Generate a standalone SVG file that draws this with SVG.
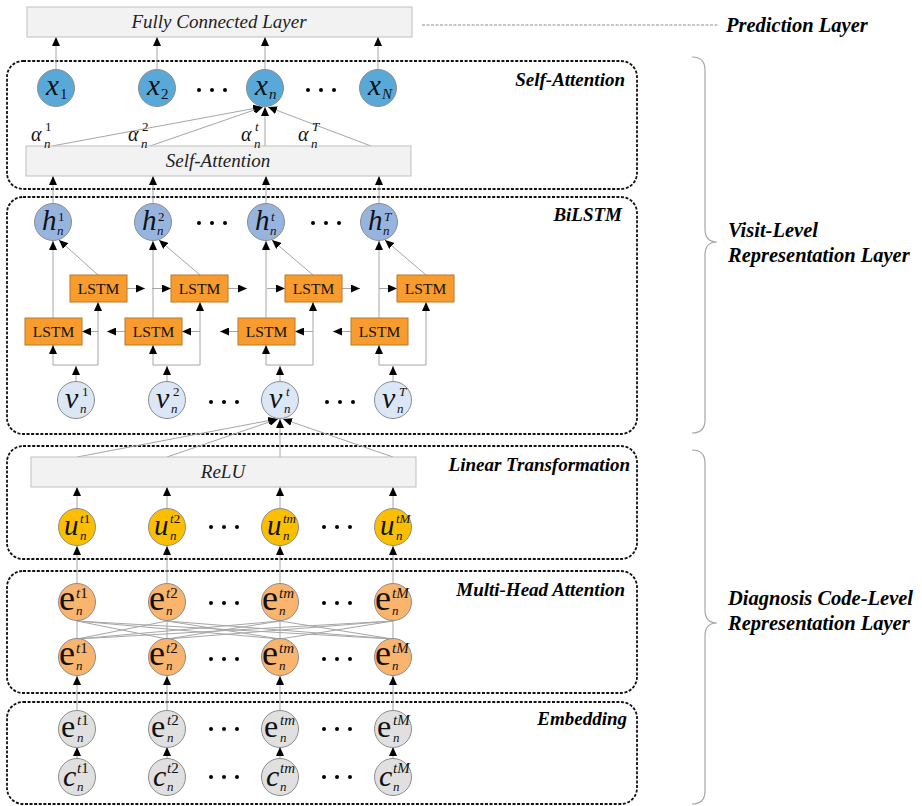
<svg xmlns="http://www.w3.org/2000/svg" width="922" height="806" viewBox="0 0 922 806">
<defs>
<marker id="ah" viewBox="0 0 9 8" refX="9" refY="4" markerWidth="9" markerHeight="8" markerUnits="userSpaceOnUse" orient="auto">
<path d="M0,0 L9,4 L0,8 z" fill="#000"/>
</marker>
<style>
text{font-family:'Liberation Serif','Times New Roman',Tinos,'DejaVu Serif',serif}
.box{fill:none;stroke:#111;stroke-width:1.8;stroke-dasharray:3 1.6}
.bar{fill:#f2f2f2;stroke:#bfbfbf;stroke-width:1}
.c{stroke:#a6a6a6;stroke-width:1;fill:none}
.a{stroke:#a6a6a6;stroke-width:1;fill:none;marker-end:url(#ah)}
.nd{stroke:#8c8c8c;stroke-width:1}
.xb{fill:#58a9d8}.hb{fill:#97b4df}.vb{fill:#dbe6f6}.ub{fill:#fcbf00}.eo{fill:#f9b46e}.gr{fill:#e0e0e0}
.lstm{fill:#f89c2e;stroke:#b9782a;stroke-width:1}
.lt{font-size:15.5px;text-anchor:middle;fill:#111}
.bt{font-size:19px;font-style:italic;text-anchor:middle;fill:#222}
.sec{font-size:19px;font-style:italic;font-weight:bold;text-anchor:end;fill:#000}
.side{font-size:20.5px;font-style:italic;font-weight:bold;fill:#000}
.m{font-size:29px;font-style:italic;fill:#111}
.mv{font-size:30px;font-style:italic;fill:#111}
.me{font-size:36px;fill:#111}
.me2{font-size:32px;fill:#111}
.s{font-size:13px;font-style:italic;fill:#111}
.s2{font-size:15px;font-style:italic;fill:#111}
.sr{font-style:normal}
.al{font-size:20px;font-style:italic;fill:#111}
.dot{fill:#000}
.br{stroke:#a6a6a6;stroke-width:1.2;fill:none}
</style>
</defs>

<g id="sections">
<rect class="box" x="7" y="61" width="630" height="128" rx="16"/>
<rect class="box" x="7" y="197" width="630" height="237" rx="16"/>
<rect class="box" x="7" y="446" width="630" height="113" rx="16"/>
<rect class="box" x="7" y="571" width="630" height="122" rx="16"/>
<rect class="box" x="7" y="702" width="630" height="102" rx="16"/>
<text class="sec" x="625" y="86">Self-Attention</text>
<text class="sec" x="622" y="221">BiLSTM</text>
<text class="sec" x="630" y="471">Linear Transformation</text>
<text class="sec" x="625" y="596">Multi-Head Attention</text>
<text class="sec" x="627" y="725">Embedding</text>
</g>

<g id="side-labels">
<line x1="422" y1="25" x2="718" y2="25" stroke="#8c8c8c" stroke-width="1" stroke-dasharray="3 1.5"/>
<text class="side" x="726" y="32">Prediction Layer</text>
<path class="br" d="M692,57 Q705,57 705,70 L705,229 Q705,242 717,242 Q705,242 705,255 L705,420 Q705,433 692,433"/>
<text class="side" x="728" y="237">Visit-Level</text>
<text class="side" x="728" y="262">Representation Layer</text>
<path class="br" d="M692,450 Q705,450 705,463 L705,610 Q705,623 717,623 Q705,623 705,636 L705,791 Q705,804 692,804"/>
<text class="side" x="728" y="605">Diagnosis Code-Level</text>
<text class="side" x="728" y="630">Representation Layer</text>
</g>

<g id="connectors">
<line class="a" x1="56" y1="69" x2="56" y2="37"/>
<line class="a" x1="157" y1="69" x2="157" y2="37"/>
<line class="a" x1="265" y1="69" x2="265" y2="37"/>
<line class="a" x1="378" y1="69" x2="378" y2="37"/>
<line class="a" x1="52" y1="146" x2="262" y2="107"/>
<line class="a" x1="150" y1="146" x2="263" y2="107"/>
<line class="a" x1="265" y1="146" x2="265" y2="107"/>
<line class="a" x1="371" y1="146" x2="268" y2="107"/>
<line class="a" x1="53" y1="204" x2="53" y2="176"/>
<line class="a" x1="153" y1="204" x2="153" y2="176"/>
<line class="a" x1="266" y1="204" x2="266" y2="176"/>
<line class="a" x1="379" y1="204" x2="379" y2="176"/>
<line class="a" x1="76" y1="382" x2="76" y2="366"/>
<line class="c" x1="53" y1="365" x2="98" y2="365"/>
<line class="a" x1="53" y1="365" x2="53" y2="345"/>
<line class="a" x1="98" y1="365" x2="98" y2="302"/>
<line class="a" x1="53" y1="318" x2="53" y2="241"/>
<line class="a" x1="98" y1="275" x2="59" y2="240"/>
<line class="a" x1="167" y1="382" x2="167" y2="366"/>
<line class="c" x1="153" y1="365" x2="200" y2="365"/>
<line class="a" x1="153" y1="365" x2="153" y2="345"/>
<line class="a" x1="200" y1="365" x2="200" y2="302"/>
<line class="a" x1="153" y1="318" x2="153" y2="241"/>
<line class="a" x1="200" y1="275" x2="159" y2="240"/>
<line class="a" x1="280" y1="382" x2="280" y2="366"/>
<line class="c" x1="266" y1="365" x2="313" y2="365"/>
<line class="a" x1="266" y1="365" x2="266" y2="345"/>
<line class="a" x1="313" y1="365" x2="313" y2="302"/>
<line class="a" x1="266" y1="318" x2="266" y2="241"/>
<line class="a" x1="313" y1="275" x2="272" y2="240"/>
<line class="a" x1="393" y1="382" x2="393" y2="366"/>
<line class="c" x1="379" y1="365" x2="426" y2="365"/>
<line class="a" x1="379" y1="365" x2="379" y2="345"/>
<line class="a" x1="426" y1="365" x2="426" y2="302"/>
<line class="a" x1="379" y1="318" x2="379" y2="241"/>
<line class="a" x1="426" y1="275" x2="385" y2="240"/>
<line class="a" x1="127" y1="288.5" x2="145" y2="288.5"/>
<line class="a" x1="152" y1="288.5" x2="171" y2="288.5"/>
<line class="a" x1="228" y1="288.5" x2="247" y2="288.5"/>
<line class="a" x1="267" y1="288.5" x2="285" y2="288.5"/>
<line class="a" x1="342" y1="288.5" x2="360" y2="288.5"/>
<line class="a" x1="379" y1="288.5" x2="397" y2="288.5"/>
<line class="a" x1="98" y1="331.5" x2="82" y2="331.5"/>
<line class="a" x1="125" y1="331.5" x2="107" y2="331.5"/>
<line class="a" x1="200" y1="331.5" x2="182" y2="331.5"/>
<line class="a" x1="238" y1="331.5" x2="220" y2="331.5"/>
<line class="a" x1="313" y1="331.5" x2="295" y2="331.5"/>
<line class="a" x1="351" y1="331.5" x2="333" y2="331.5"/>
<line class="a" x1="77" y1="457" x2="277" y2="419"/>
<line class="a" x1="167" y1="457" x2="278" y2="419"/>
<line class="a" x1="280" y1="457" x2="280" y2="419"/>
<line class="a" x1="393" y1="457" x2="283" y2="419"/>
<line class="a" x1="77" y1="508" x2="77" y2="487"/>
<line class="a" x1="167" y1="508" x2="167" y2="487"/>
<line class="a" x1="280" y1="508" x2="280" y2="487"/>
<line class="a" x1="393" y1="508" x2="393" y2="487"/>
<line class="a" x1="77" y1="583" x2="77" y2="546"/>
<line class="a" x1="167" y1="583" x2="167" y2="546"/>
<line class="a" x1="280" y1="583" x2="280" y2="546"/>
<line class="a" x1="393" y1="583" x2="393" y2="546"/>
<g class="c">
<line x1="77" y1="621" x2="77" y2="639"/><line x1="77" y1="621" x2="167" y2="639"/><line x1="77" y1="621" x2="280" y2="639"/><line x1="77" y1="621" x2="393" y2="639"/>
<line x1="167" y1="621" x2="77" y2="639"/><line x1="167" y1="621" x2="167" y2="639"/><line x1="167" y1="621" x2="280" y2="639"/><line x1="167" y1="621" x2="393" y2="639"/>
<line x1="280" y1="621" x2="77" y2="639"/><line x1="280" y1="621" x2="167" y2="639"/><line x1="280" y1="621" x2="280" y2="639"/><line x1="280" y1="621" x2="393" y2="639"/>
<line x1="393" y1="621" x2="77" y2="639"/><line x1="393" y1="621" x2="167" y2="639"/><line x1="393" y1="621" x2="280" y2="639"/><line x1="393" y1="621" x2="393" y2="639"/>
</g>
<line class="a" x1="77" y1="711" x2="77" y2="676"/>
<line class="a" x1="167" y1="711" x2="167" y2="676"/>
<line class="a" x1="280" y1="711" x2="280" y2="676"/>
<line class="a" x1="393" y1="711" x2="393" y2="676"/>
<line class="a" x1="77" y1="759" x2="77" y2="747"/>
<line class="a" x1="167" y1="759" x2="167" y2="747"/>
<line class="a" x1="280" y1="759" x2="280" y2="747"/>
<line class="a" x1="393" y1="759" x2="393" y2="747"/>
</g>

<g id="fc-layer">
<rect class="bar" x="27" y="7" width="385" height="30"/>
<text class="bt" x="219" y="28">Fully Connected Layer</text>
</g>
<g id="self-attention-bar">
<rect class="bar" x="26" y="146" width="385" height="30"/>
<text class="bt" x="218" y="167">Self-Attention</text>
</g>
<g id="relu-bar">
<rect class="bar" x="31" y="457" width="385" height="30"/>
<text class="bt" x="223" y="478">ReLU</text>
</g>

<g id="alpha-labels">
<text class="al" x="31" y="141">α</text><text class="s sr" x="45" y="131">1</text><text class="s" x="44" y="148">n</text>
<text class="al" x="128" y="141">α</text><text class="s sr" x="142" y="131">2</text><text class="s" x="141" y="148">n</text>
<text class="al" x="241" y="141">α</text><text class="s" x="255" y="131">t</text><text class="s" x="254" y="148">n</text>
<text class="al" x="298" y="141">α</text><text class="s" x="312" y="131">T</text><text class="s" x="311" y="148">n</text>
</g>

<g id="x1"><circle class="nd xb" cx="56" cy="88" r="18.5"/><text class="m" x="46" y="95">x</text><text class="s2 sr" x="60" y="99">1</text></g>
<g id="x2"><circle class="nd xb" cx="157" cy="88" r="18.5"/><text class="m" x="147" y="95">x</text><text class="s2 sr" x="161" y="99">2</text></g>
<g id="xn"><circle class="nd xb" cx="265" cy="88" r="18.5"/><text class="m" x="255" y="95">x</text><text class="s2" x="269" y="99">n</text></g>
<g id="xN"><circle class="nd xb" cx="378" cy="88" r="18.5"/><text class="m" x="368" y="95">x</text><text class="s2" x="382" y="99">N</text></g>
<g id="dots-x"><circle class="dot" cx="199" cy="90" r="2"/><circle class="dot" cx="212" cy="90" r="2"/><circle class="dot" cx="225" cy="90" r="2"/><circle class="dot" cx="308" cy="90" r="2"/><circle class="dot" cx="321" cy="90" r="2"/><circle class="dot" cx="334" cy="90" r="2"/></g>

<g id="h1"><circle class="nd hb" cx="53" cy="222" r="18.5"/><text class="m" x="42" y="230">h</text><text class="s sr" x="58" y="221">1</text><text class="s" x="57" y="235">n</text></g>
<g id="h2"><circle class="nd hb" cx="153" cy="222" r="18.5"/><text class="m" x="142" y="230">h</text><text class="s sr" x="158" y="221">2</text><text class="s" x="157" y="235">n</text></g>
<g id="ht"><circle class="nd hb" cx="266" cy="222" r="18.5"/><text class="m" x="255" y="230">h</text><text class="s" x="271" y="221">t</text><text class="s" x="270" y="235">n</text></g>
<g id="hT"><circle class="nd hb" cx="379" cy="222" r="18.5"/><text class="m" x="368" y="230">h</text><text class="s" x="384" y="221">T</text><text class="s" x="383" y="235">n</text></g>
<g id="dots-h"><circle class="dot" cx="199" cy="223" r="2"/><circle class="dot" cx="212" cy="223" r="2"/><circle class="dot" cx="225" cy="223" r="2"/><circle class="dot" cx="313" cy="223" r="2"/><circle class="dot" cx="326" cy="223" r="2"/><circle class="dot" cx="339" cy="223" r="2"/></g>

<g id="lstm-f1"><rect class="lstm" x="70" y="275" width="57" height="27"/><text class="lt" x="98.5" y="294">LSTM</text></g>
<g id="lstm-f2"><rect class="lstm" x="171" y="275" width="57" height="27"/><text class="lt" x="199.5" y="294">LSTM</text></g>
<g id="lstm-f3"><rect class="lstm" x="285" y="275" width="57" height="27"/><text class="lt" x="313.5" y="294">LSTM</text></g>
<g id="lstm-f4"><rect class="lstm" x="397" y="275" width="57" height="27"/><text class="lt" x="425.5" y="294">LSTM</text></g>
<g id="lstm-b1"><rect class="lstm" x="25" y="318" width="57" height="27"/><text class="lt" x="53.5" y="337">LSTM</text></g>
<g id="lstm-b2"><rect class="lstm" x="125" y="318" width="57" height="27"/><text class="lt" x="153.5" y="337">LSTM</text></g>
<g id="lstm-b3"><rect class="lstm" x="238" y="318" width="57" height="27"/><text class="lt" x="266.5" y="337">LSTM</text></g>
<g id="lstm-b4"><rect class="lstm" x="351" y="318" width="57" height="27"/><text class="lt" x="379.5" y="337">LSTM</text></g>

<g id="v1"><circle class="nd vb" cx="76" cy="400" r="18.5"/><text class="mv" x="65" y="408">v</text><text class="s sr" x="82" y="396">1</text><text class="s" x="80" y="413">n</text></g>
<g id="v2"><circle class="nd vb" cx="167" cy="400" r="18.5"/><text class="mv" x="156" y="408">v</text><text class="s sr" x="173" y="396">2</text><text class="s" x="171" y="413">n</text></g>
<g id="vt"><circle class="nd vb" cx="280" cy="400" r="18.5"/><text class="mv" x="269" y="408">v</text><text class="s" x="286" y="396">t</text><text class="s" x="284" y="413">n</text></g>
<g id="vT"><circle class="nd vb" cx="393" cy="400" r="18.5"/><text class="mv" x="382" y="408">v</text><text class="s" x="399" y="396">T</text><text class="s" x="397" y="413">n</text></g>
<g id="dots-v"><circle class="dot" cx="211" cy="402" r="2"/><circle class="dot" cx="224" cy="402" r="2"/><circle class="dot" cx="237" cy="402" r="2"/><circle class="dot" cx="327" cy="402" r="2"/><circle class="dot" cx="340" cy="402" r="2"/><circle class="dot" cx="353" cy="402" r="2"/></g>

<g id="u1"><circle class="nd ub" cx="77" cy="527" r="18.5"/><text class="m" x="64" y="535">u</text><text class="s" x="80" y="523">t<tspan class="sr">1</tspan></text><text class="s" x="80" y="540">n</text></g>
<g id="u2"><circle class="nd ub" cx="167" cy="527" r="18.5"/><text class="m" x="154" y="535">u</text><text class="s" x="170" y="523">t<tspan class="sr">2</tspan></text><text class="s" x="170" y="540">n</text></g>
<g id="um"><circle class="nd ub" cx="280" cy="527" r="18.5"/><text class="m" x="267" y="535">u</text><text class="s" x="283" y="523">tm</text><text class="s" x="283" y="540">n</text></g>
<g id="uM"><circle class="nd ub" cx="393" cy="527" r="18.5"/><text class="m" x="380" y="535">u</text><text class="s" x="396" y="523">tM</text><text class="s" x="396" y="540">n</text></g>
<g id="dots-u"><circle class="dot" cx="211" cy="527" r="2"/><circle class="dot" cx="224" cy="527" r="2"/><circle class="dot" cx="237" cy="527" r="2"/><circle class="dot" cx="324" cy="527" r="2"/><circle class="dot" cx="337" cy="527" r="2"/><circle class="dot" cx="350" cy="527" r="2"/></g>

<g id="ea1"><circle class="nd eo" cx="77" cy="602" r="18.5"/><text class="me" x="59" y="610">e</text><text class="s2" x="76" y="598">t<tspan class="sr">1</tspan></text><text class="s" x="76" y="615">n</text></g>
<g id="ea2"><circle class="nd eo" cx="167" cy="602" r="18.5"/><text class="me" x="149" y="610">e</text><text class="s2" x="166" y="598">t<tspan class="sr">2</tspan></text><text class="s" x="166" y="615">n</text></g>
<g id="eam"><circle class="nd eo" cx="280" cy="602" r="18.5"/><text class="me" x="262" y="610">e</text><text class="s2" x="279" y="598">tm</text><text class="s" x="279" y="615">n</text></g>
<g id="eaM"><circle class="nd eo" cx="393" cy="602" r="18.5"/><text class="me" x="375" y="610">e</text><text class="s2" x="392" y="598">tM</text><text class="s" x="392" y="615">n</text></g>
<g id="dots-ea"><circle class="dot" cx="211" cy="603" r="2"/><circle class="dot" cx="224" cy="603" r="2"/><circle class="dot" cx="237" cy="603" r="2"/><circle class="dot" cx="324" cy="603" r="2"/><circle class="dot" cx="337" cy="603" r="2"/><circle class="dot" cx="350" cy="603" r="2"/></g>

<g id="eb1"><circle class="nd eo" cx="77" cy="657" r="18.5"/><text class="me" x="59" y="665">e</text><text class="s2" x="76" y="653">t<tspan class="sr">1</tspan></text><text class="s" x="76" y="670">n</text></g>
<g id="eb2"><circle class="nd eo" cx="167" cy="657" r="18.5"/><text class="me" x="149" y="665">e</text><text class="s2" x="166" y="653">t<tspan class="sr">2</tspan></text><text class="s" x="166" y="670">n</text></g>
<g id="ebm"><circle class="nd eo" cx="280" cy="657" r="18.5"/><text class="me" x="262" y="665">e</text><text class="s2" x="279" y="653">tm</text><text class="s" x="279" y="670">n</text></g>
<g id="ebM"><circle class="nd eo" cx="393" cy="657" r="18.5"/><text class="me" x="375" y="665">e</text><text class="s2" x="392" y="653">tM</text><text class="s" x="392" y="670">n</text></g>
<g id="dots-eb"><circle class="dot" cx="211" cy="659" r="2"/><circle class="dot" cx="224" cy="659" r="2"/><circle class="dot" cx="237" cy="659" r="2"/><circle class="dot" cx="324" cy="659" r="2"/><circle class="dot" cx="337" cy="659" r="2"/><circle class="dot" cx="350" cy="659" r="2"/></g>

<g id="ee1"><circle class="nd gr" cx="77" cy="729" r="18.5"/><text class="me2" x="61" y="737">e</text><text class="s2" x="77" y="725">t<tspan class="sr">1</tspan></text><text class="s" x="77" y="742">n</text></g>
<g id="ee2"><circle class="nd gr" cx="167" cy="729" r="18.5"/><text class="me2" x="151" y="737">e</text><text class="s2" x="167" y="725">t<tspan class="sr">2</tspan></text><text class="s" x="167" y="742">n</text></g>
<g id="eem"><circle class="nd gr" cx="280" cy="729" r="18.5"/><text class="me2" x="264" y="737">e</text><text class="s2" x="280" y="725">tm</text><text class="s" x="280" y="742">n</text></g>
<g id="eeM"><circle class="nd gr" cx="393" cy="729" r="18.5"/><text class="me2" x="377" y="737">e</text><text class="s2" x="393" y="725">tM</text><text class="s" x="393" y="742">n</text></g>
<g id="dots-ee"><circle class="dot" cx="211" cy="729" r="2"/><circle class="dot" cx="224" cy="729" r="2"/><circle class="dot" cx="237" cy="729" r="2"/><circle class="dot" cx="324" cy="729" r="2"/><circle class="dot" cx="337" cy="729" r="2"/><circle class="dot" cx="350" cy="729" r="2"/></g>

<g id="c1"><circle class="nd gr" cx="77" cy="777" r="18.5"/><text class="mv" x="63" y="786">c</text><text class="s2" x="77" y="773">t<tspan class="sr">1</tspan></text><text class="s" x="77" y="791">n</text></g>
<g id="c2"><circle class="nd gr" cx="167" cy="777" r="18.5"/><text class="mv" x="153" y="786">c</text><text class="s2" x="167" y="773">t<tspan class="sr">2</tspan></text><text class="s" x="167" y="791">n</text></g>
<g id="cm"><circle class="nd gr" cx="280" cy="777" r="18.5"/><text class="mv" x="266" y="786">c</text><text class="s2" x="280" y="773">tm</text><text class="s" x="280" y="791">n</text></g>
<g id="cM"><circle class="nd gr" cx="393" cy="777" r="18.5"/><text class="mv" x="379" y="786">c</text><text class="s2" x="393" y="773">tM</text><text class="s" x="393" y="791">n</text></g>
<g id="dots-c"><circle class="dot" cx="211" cy="777" r="2"/><circle class="dot" cx="224" cy="777" r="2"/><circle class="dot" cx="237" cy="777" r="2"/><circle class="dot" cx="324" cy="777" r="2"/><circle class="dot" cx="337" cy="777" r="2"/><circle class="dot" cx="350" cy="777" r="2"/></g>
</svg>
